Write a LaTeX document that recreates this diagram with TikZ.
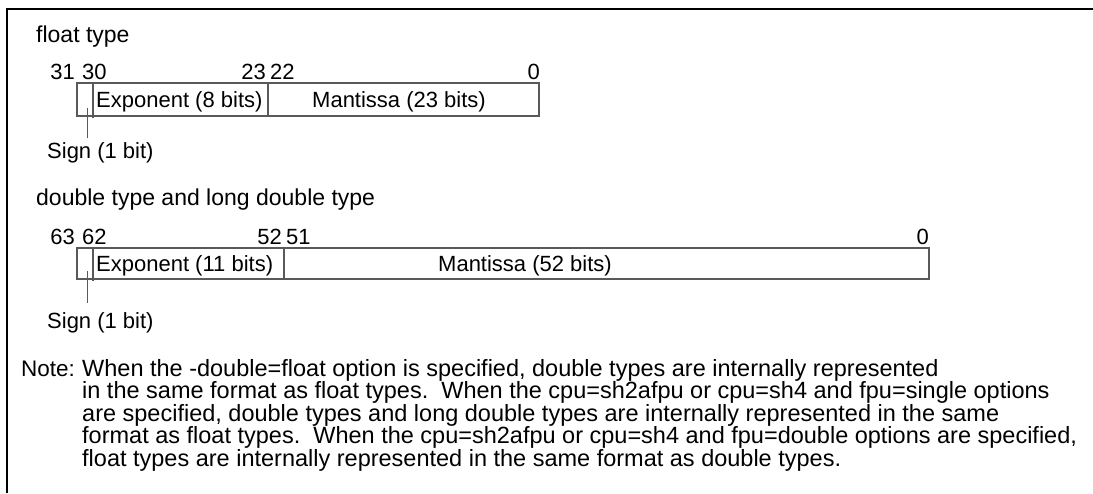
\documentclass[tikz,border=0pt]{standalone}
\usepackage{fontspec}
\setmainfont{Liberation Sans}
\usetikzlibrary{positioning}
\tikzset{
  frameline/.style={line width=2.4pt, black},
  fieldbox/.style={line width=1.3pt, black!65},
  leader/.style={line width=0.8pt, black!65},
  txt/.style={font=\fontsize{23.5}{24}\selectfont, inner sep=0pt, anchor=base west},
  heading/.style={txt, font=\fontsize{23}{24}\selectfont},
  infield/.style={txt, font=\fontsize{22}{24}\selectfont},
  notelabel/.style={txt, font=\fontsize{22.5}{24}\selectfont},
  bitno/.style={infield, anchor=base east}
}

\begin{document}
\begin{tikzpicture}[x=1pt,y=-1pt]
  \useasboundingbox (0,0) rectangle (1093,493);
  \draw[frameline] (1093,9) -- (7,9) -- (7,493);

  % float type
  \node[heading] (ftitle) at (36,42) {float type};
  \draw[fieldbox] (77,83) rectangle (539,116);
  \draw[fieldbox] (93,83) -- (93,118);
  \draw[fieldbox] (268,83) -- (268,116);
  \node[bitno] (f31) at (75,79) {31};
  \node[infield] (f30) at (82,79) {30};
  \node[bitno] (f23) at (266,79) {23};
  \node[infield] (f22) at (270,79) {22};
  \node[bitno] (f0) at (540,79) {0};
  \node[infield] (fexp) at (96,107) {Exponent (8 bits)};
  \node[infield] (fman) at (312,107) {Mantissa (23 bits)};
  \node[infield] (fsign) at (47,158) {Sign (1 bit)};
  \coordinate (fsigntop) at (87,108);
  \coordinate (fsignend) at (87,138);
  \draw[leader] (fsigntop) -- (fsignend);

  % double type and long double type
  \node[heading] (dtitle) at (36,205) {double type and long double type};
  \draw[fieldbox] (77,248) rectangle (929,279);
  \draw[fieldbox] (93,248) -- (93,281);
  \draw[fieldbox] (284,248) -- (284,279);
  \node[bitno] (d63) at (75,244) {63};
  \node[infield] (d62) at (82,244) {62};
  \node[bitno] (d52) at (282,244) {52};
  \node[infield] (d51) at (286,244) {51};
  \node[bitno] (d0) at (929,244) {0};
  \node[infield] (dexp) at (96,271) {Exponent (11 bits)};
  \node[infield] (dman) at (438,271) {Mantissa (52 bits)};
  \node[infield] (dsign) at (47,328) {Sign (1 bit)};
  \coordinate (dsigntop) at (87,271);
  \coordinate (dsignend) at (87,303);
  \draw[leader] (dsigntop) -- (dsignend);

  % note
  \node[notelabel] (note) at (21,376) {Note:};
  \node[txt] (n1) at (82,376) {When the -double=float option is specified, double types are internally represented};
  \node[txt] (n2) at (82,398.5) {in the same format as float types.\ \ When the cpu=sh2afpu or cpu=sh4 and fpu=single options};
  \node[txt] (n3) at (82,421) {are specified, double types and long double types are internally represented in the same};
  \node[txt] (n4) at (82,443.5) {format as float types.\ \ When the cpu=sh2afpu or cpu=sh4 and fpu=double options are specified,};
  \node[txt] (n5) at (82,466) {float types are internally represented in the same format as double types.};
\end{tikzpicture}
\end{document}
